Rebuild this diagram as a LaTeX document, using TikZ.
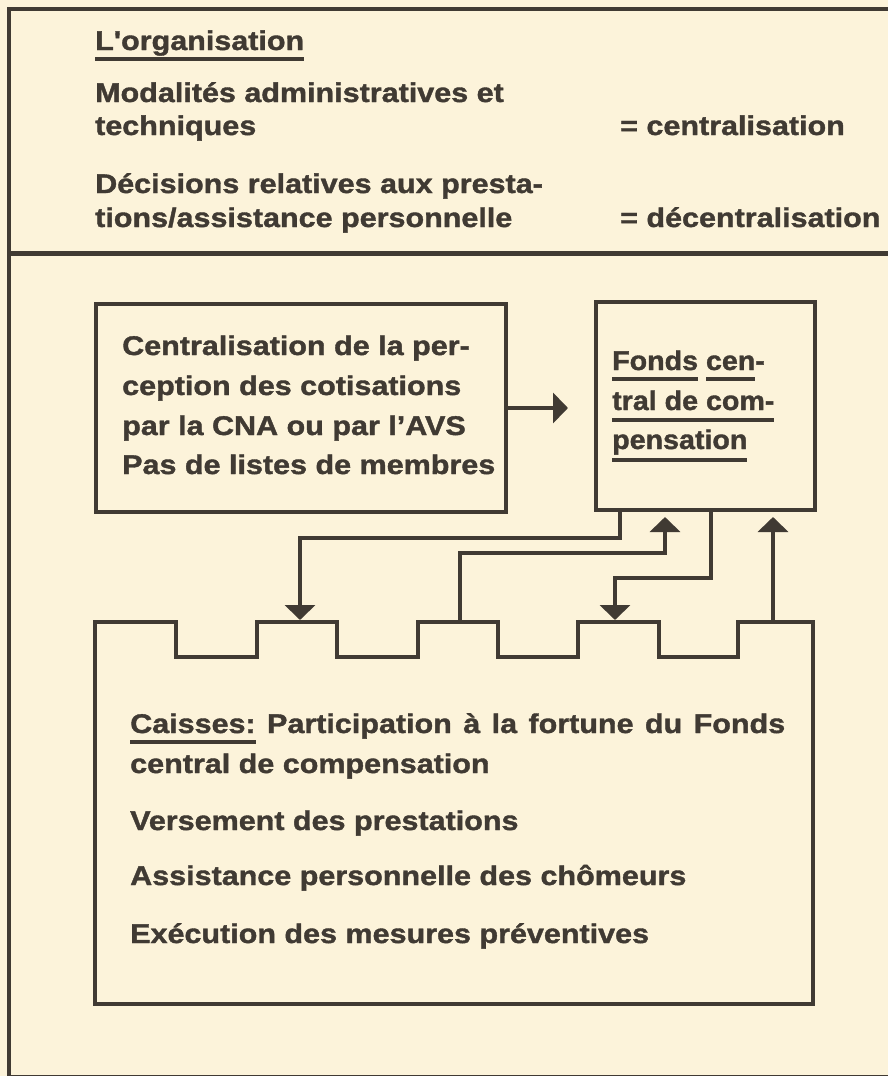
\documentclass[tikz,border=0pt]{standalone}
\usepackage{fontspec}
\usetikzlibrary{arrows.meta}
\newfontfamily\hf{Liberation Sans Bold}[FakeStretch=1.13, FakeBold=1.4]
\newfontfamily\hfn{Liberation Sans Bold}[FakeStretch=1.06, FakeBold=1.4]
\definecolor{ink}{HTML}{403A33}
\definecolor{paper}{HTML}{FCF3DA}
\newcommand\uln[2][9]{\setbox0\hbox{#2}\rlap{\rule[\dimexpr-#1pt-1.75pt\relax]{\wd0}{3.5pt}}\box0\relax}
\begin{document}
\begin{tikzpicture}[x=1pt,y=-1pt,
  txt/.style={text=ink, font=\hf\fontsize{27}{30}\selectfont, inner sep=0pt, anchor=base west},
  ftxt/.style={text=ink, font=\hfn\fontsize{27}{30}\selectfont, inner sep=0pt, anchor=base west},
  frame/.style={draw=ink, line width=4pt},
  boxnode/.style={draw=ink, line width=4pt, inner sep=0pt},
  arr/.style={draw=ink, line width=4pt, -{Triangle[length=15pt,width=30pt]}},
  ulstyle/.style={draw=ink, line width=3.5pt}]
\fill[paper] (0,0) rectangle (888,1076);
\useasboundingbox (0,0) rectangle (888,1076);

% outer frame and separator
\draw[frame] (888,9) -- (9,9) -- (9,1076);
\draw[ink, line width=3pt] (9,1076) -- (888,1076);
\draw[ink, line width=5pt] (9,253) -- (888,253);

% top section
\node[txt] (org) at (95,50) {L'organisation};
\draw[ulstyle] ([yshift=-9pt]org.base west) -- ([yshift=-9pt]org.base east);
\node[txt] (mod1) at (95,102) {Modalités administratives et};
\node[txt] (mod2) at (95,135) {techniques};
\node[txt] (cent) at (620,135) {= centralisation};
\node[txt] (dec1) at (95,193) {Décisions relatives aux presta-};
\node[txt] (dec2) at (95,227) {tions/assistance personnelle};
\node[txt] (decent) at (620,227) {= décentralisation};

% boxes
\node[boxnode, minimum width=410pt, minimum height=208pt] (cen) at (301,408) {};
\node[boxnode, minimum width=219pt, minimum height=208pt] (fonds) at (705.5,406) {};

\node[txt] (c1) at (122,355) {Centralisation de la per-};
\node[txt] (c2) at (122,395) {ception des cotisations};
\node[txt] (c3) at (122,435) {par la CNA ou par l’AVS};
\node[txt] (c4) at (122,474) {Pas de listes de membres};

\node[ftxt] (f1) at (612,370) {\uln{Fonds} \uln{cen}-};
\node[ftxt] (f2) at (612,410) {\uln[10]{tral de com-}};
\node[ftxt] (f3) at (612,449) {\uln[11]{pensation}};

% arrow centralisation -> fonds
\coordinate (tipA) at (568,408);
\draw[arr] (cen.east) -- (tipA);

% caisses crenellated box
\draw[ink, line width=4pt, line join=miter]
  (95,1004) -- (95,622) -- (176,622) -- (176,657) -- (257,657) -- (257,622)
  -- (337,622) -- (337,657) -- (418,657) -- (418,622) -- (498,622) -- (498,657)
  -- (578,657) -- (578,622) -- (659,622) -- (659,657) -- (738,657) -- (738,622)
  -- (813,622) -- (813,1004) -- cycle;

\coordinate (a1) at (300,620);
\coordinate (b2) at (460,622);
\coordinate (u2) at (665,517);
\coordinate (a3) at (615,620);
\coordinate (b4) at (773,622);
\coordinate (u4) at (773,517);

\draw[arr] ([xshift=26pt]fonds.south west) -- ++(0,26) -| (a1);
\draw[arr] (b2) -- ++(0,-69) -| (u2);
\draw[arr] ([xshift=117pt]fonds.south west) -- ++(0,66) -| (a3);
\draw[arr] (b4) -- (u4);

% caisses text
\node[txt] (k1) at (130,733) {\makebox[655pt][s]{\uln{Caisses:} Participation à la fortune du Fonds}};
\node[txt] (k2) at (130,773) {central de compensation};
\node[txt] (k3) at (130,830) {Versement des prestations};
\node[txt] (k4) at (130,885) {Assistance personnelle des chômeurs};
\node[txt] (k5) at (130,943) {Exécution des mesures préventives};
\end{tikzpicture}
\end{document}
